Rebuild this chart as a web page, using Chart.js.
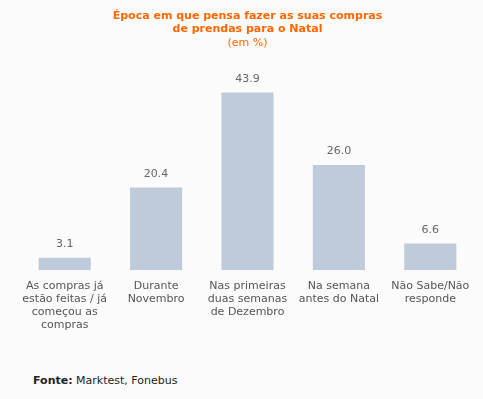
<!DOCTYPE html>
<html>
<head>
<meta charset="utf-8">
<script src="https://cdn.jsdelivr.net/npm/chart.js@4/dist/chart.umd.min.js"></script>
<style>
  html, body { margin: 0; padding: 0; background: #fbfbfb; }
  #wrap { position: relative; width: 483px; height: 399px; }
  #source {
    position: absolute; left: 33px; top: 374px;
    font: 11px Verdana, "DejaVu Sans", sans-serif; color: #222;
  }
</style>
</head>
<body>
<div id="wrap">
  <canvas id="chart" width="483" height="360"></canvas>
  <div id="source"><b>Fonte:</b> Marktest, Fonebus</div>
</div>
<script>
const categories = [
  ["As compras já", "estão feitas / já", "começou as", "compras"],
  ["Durante", "Novembro"],
  ["Nas primeiras", "duas semanas", "de Dezembro"],
  ["Na semana", "antes do Natal"],
  ["Não Sabe/Não", "responde"],
];
const values = [3.1, 20.4, 43.9, 26.0, 6.6];

const titleLines = ["Época em que pensa fazer as suas compras", "de prendas para o Natal"];
const subtitleText = "(em %)";

const FONT = "'DejaVu Sans', Verdana, sans-serif";

// value labels above each bar
const valueLabels = {
  id: "valueLabels",
  afterDatasetsDraw(chart) {
    const ctx = chart.ctx;
    const meta = chart.getDatasetMeta(0);
    ctx.save();
    ctx.font = "11px " + FONT;
    ctx.fillStyle = "#666";
    ctx.textAlign = "center";
    ctx.textBaseline = "bottom";
    meta.data.forEach((bar, i) => {
      ctx.fillText(values[i].toFixed(1), bar.x, bar.y - 8);
    });
    ctx.restore();
  },
};

new Chart(document.getElementById("chart"), {
  type: "bar",
  data: {
    labels: categories,
    datasets: [
      {
        data: values,
        backgroundColor: "#bfcadb",
        categoryPercentage: 1,
        barPercentage: 0.57,
      },
    ],
  },
  options: {
    responsive: false,
    animation: false,
    layout: {
      padding: { left: 19, right: 7, top: 0, bottom: 19 },
    },
    plugins: {
      legend: { display: false },
      tooltip: { enabled: false },
      title: {
        display: true,
        text: titleLines,
        color: "#ff6600",
        font: { family: FONT, size: 11, weight: "bold", lineHeight: 1.25 },
        padding: { top: 9, bottom: 0 },
      },
      subtitle: {
        display: true,
        text: subtitleText,
        color: "#ff6600",
        font: { family: FONT, size: 11 },
        padding: { top: 0, bottom: 10 },
      },
    },
    scales: {
      x: {
        grid: { display: false, drawTicks: false },
        border: { display: false },
        ticks: {
          color: "#555",
          font: { family: FONT, size: 11, lineHeight: 1.2 },
          padding: 9,
          maxRotation: 0,
          autoSkip: false,
        },
      },
      y: {
        display: false,
        min: 0,
        max: 52,
      },
    },
  },
  plugins: [valueLabels],
});
</script>
</body>
</html>
